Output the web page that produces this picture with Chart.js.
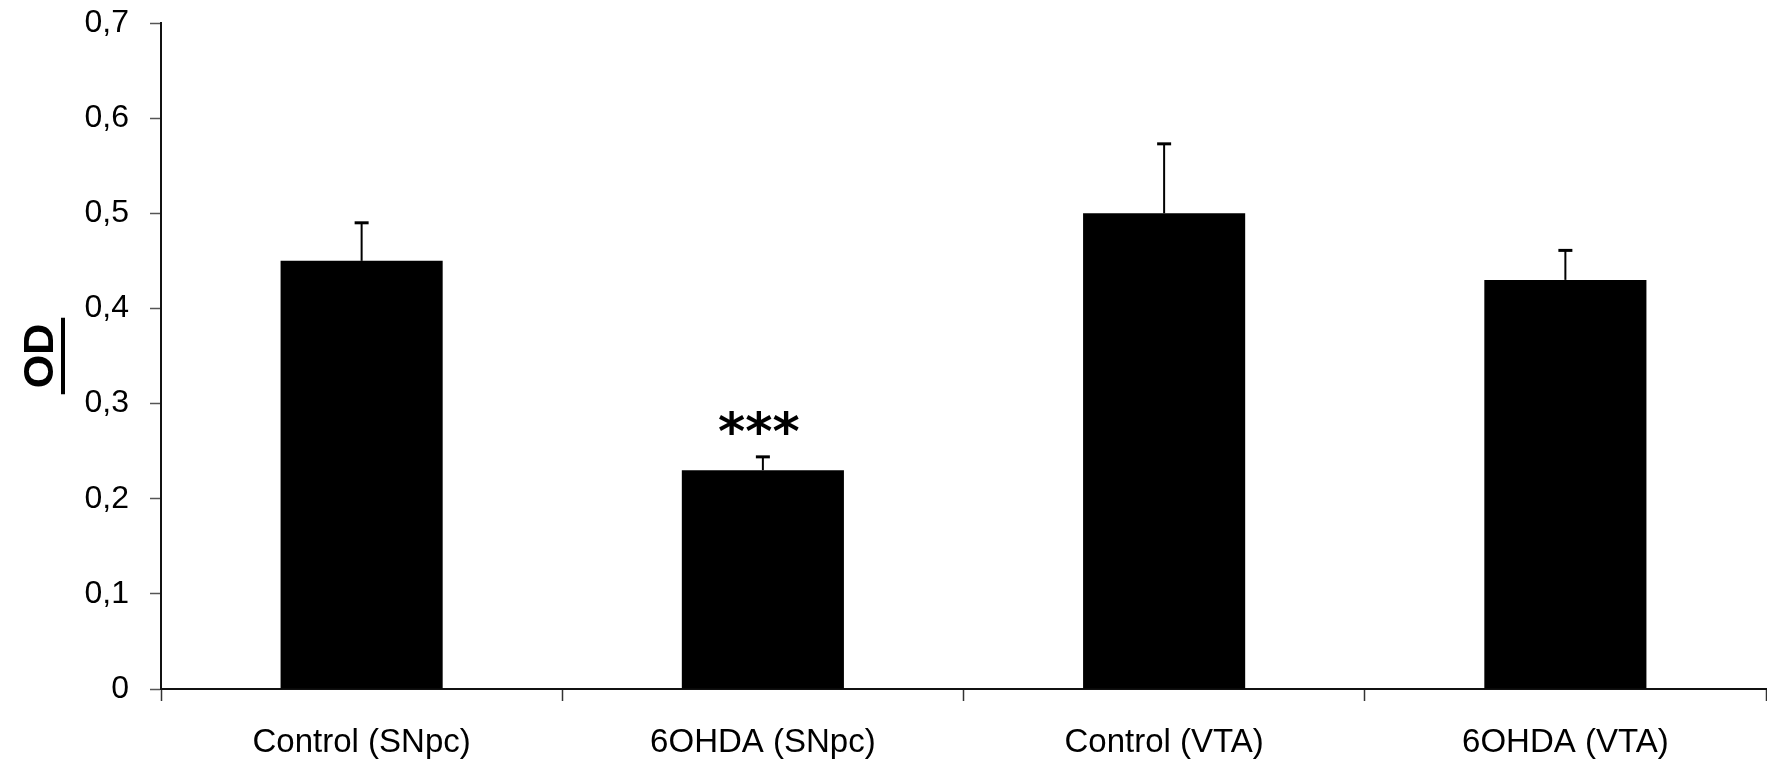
<!DOCTYPE html>
<html>
<head>
<meta charset="utf-8">
<script src="https://cdn.jsdelivr.net/npm/chart.js@4/dist/chart.umd.min.js"></script>
<style>
  html, body { margin: 0; padding: 0; background: #fff; }
  #wrap { width: 1767px; height: 761px; }
</style>
</head>
<body>
<div id="wrap"><canvas id="odChart"></canvas></div>
<script>
const groups = ['Control (SNpc)', '6OHDA (SNpc)', 'Control (VTA)', '6OHDA (VTA)'];
const odMean = [0.45, 0.23, 0.50, 0.43];
const odSem = [0.04, 0.014, 0.073, 0.031];
const signif = ['', '***', '', ''];
const yTickLabels = ['0', '0,1', '0,2', '0,3', '0,4', '0,5', '0,6', '0,7'];

// SEM whiskers (upper only) and significance stars
const errorBars = {
    id: 'errorBars',
    afterDatasetsDraw(chart) {
        const ctx = chart.ctx;
        const y = chart.scales.y;
        const meta = chart.getDatasetMeta(0);
        ctx.save();
        ctx.strokeStyle = '#000';
        ctx.fillStyle = '#000';
        meta.data.forEach((bar, i) => {
            const top = y.getPixelForValue(odMean[i] + odSem[i]);
            ctx.lineWidth = 2;
            ctx.beginPath();
            ctx.moveTo(bar.x, bar.y);
            ctx.lineTo(bar.x, top);
            ctx.stroke();
            ctx.lineWidth = 3;
            ctx.beginPath();
            ctx.moveTo(bar.x - 7, top);
            ctx.lineTo(bar.x + 7, top);
            ctx.stroke();
            if (signif[i]) {
                ctx.font = 'bold 52px "DejaVu Sans"';
                ctx.textAlign = 'center';
                ctx.textBaseline = 'alphabetic';
                ctx.fillText(signif[i], bar.x - 4, top - 8);
            }
        });
        ctx.restore();
    }
};

// underlined "OD" axis title
const odTitle = {
    id: 'odTitle',
    afterDraw(chart) {
        const ctx = chart.ctx;
        const area = chart.chartArea;
        ctx.save();
        ctx.translate(53, (area.top + area.bottom) / 2);
        ctx.rotate(-Math.PI / 2);
        ctx.fillStyle = '#000';
        ctx.font = 'bold 43px "Liberation Sans", Arial, sans-serif';
        ctx.textAlign = 'center';
        ctx.textBaseline = 'alphabetic';
        ctx.fillText('OD', 0, 0);
        const w = ctx.measureText('OD').width;
        ctx.fillRect(-w / 2 - 6, 8, w + 12, 4);
        ctx.restore();
    }
};

const ctx = document.getElementById('odChart').getContext('2d');
const odChart = new Chart(ctx, {
    type: 'bar',
    data: {
        labels: groups,
        datasets: [{
            data: odMean,
            backgroundColor: '#000',
            borderWidth: 0,
            categoryPercentage: 1,
            barPercentage: 0.404
        }]
    },
    options: {
        responsive: true,
        maintainAspectRatio: false,
        animation: false,
        layout: { padding: { top: 23, right: 1, left: 0, bottom: 0 } },
        plugins: {
            legend: { display: false },
            tooltip: { enabled: false }
        },
        scales: {
            x: {
                afterFit: (scale) => { scale.height = 72; },
                grid: {
                    offset: true,
                    drawOnChartArea: false,
                    tickLength: 12,
                    tickColor: '#333',
                    tickWidth: 1.5
                },
                border: { color: '#111', width: 2 },
                ticks: {
                    color: '#000',
                    padding: 22,
                    maxRotation: 0,
                    font: { family: '"Liberation Sans", Arial, sans-serif', size: 33 }
                }
            },
            y: {
                min: 0,
                max: 0.7,
                afterFit: (scale) => {
                    scale.width = 161;
                    scale.paddingTop = 0;
                    scale.paddingBottom = 0;
                },
                grid: {
                    drawOnChartArea: false,
                    tickLength: 11,
                    tickColor: '#555',
                    tickWidth: 1.5
                },
                border: { color: '#111', width: 2 },
                ticks: {
                    stepSize: 0.1,
                    color: '#000',
                    padding: 21,
                    font: { family: '"Liberation Sans", Arial, sans-serif', size: 32 },
                    callback: (v, i) => yTickLabels[i]
                }
            }
        }
    },
    plugins: [errorBars, odTitle]
});
</script>
</body>
</html>
